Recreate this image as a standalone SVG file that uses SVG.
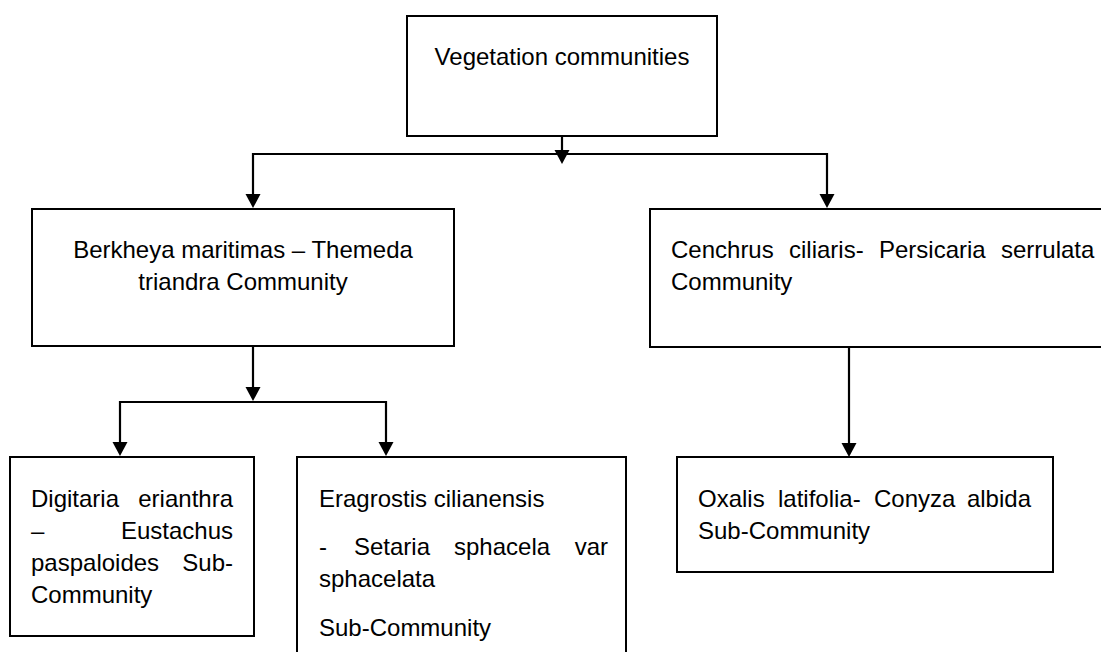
<svg xmlns="http://www.w3.org/2000/svg" width="1101" height="652" viewBox="0 0 1101 652">
<style>
.box{fill:#fff;stroke:#000;stroke-width:2}
.t{font-family:"Liberation Sans",Arial,sans-serif;font-size:24px;fill:#000}
.c{text-anchor:middle}
.e{text-anchor:end}
.ln{fill:none;stroke:#000;stroke-width:2.2}
</style>
<defs>
<marker id="ah" markerUnits="userSpaceOnUse" markerWidth="16" markerHeight="16" viewBox="0 0 16 16" refX="8" refY="8" orient="auto">
<path d="M0,0.5 L14,8 L0,15.5 Z" fill="#000"/>
</marker>
</defs>
<rect width="1101" height="652" fill="#fff"/>
<g id="connectors">
<line class="ln" x1="562" y1="136" x2="562" y2="158" marker-end="url(#ah)"/>
<line class="ln" x1="253" y1="154" x2="827" y2="154"/>
<line class="ln" x1="253" y1="153" x2="253" y2="202" marker-end="url(#ah)"/>
<line class="ln" x1="827" y1="153" x2="827" y2="202" marker-end="url(#ah)"/>
<line class="ln" x1="253" y1="346" x2="253" y2="395" marker-end="url(#ah)"/>
<line class="ln" x1="120" y1="402" x2="386" y2="402"/>
<line class="ln" x1="120" y1="401" x2="120" y2="450" marker-end="url(#ah)"/>
<line class="ln" x1="386" y1="401" x2="386" y2="450" marker-end="url(#ah)"/>
<line class="ln" x1="849" y1="347" x2="849" y2="451" marker-end="url(#ah)"/>
</g>
<g id="node-vegetation">
<rect class="box" x="407" y="16" width="310" height="120"/>
<text class="t c" x="562" y="65">Vegetation communities</text>
</g>
<g id="node-berkheya">
<rect class="box" x="32" y="209" width="422" height="137"/>
<text class="t c" x="243" y="258">Berkheya maritimas – Themeda</text>
<text class="t c" x="243" y="290">triandra Community</text>
</g>
<g id="node-cenchrus">
<rect class="box" x="650" y="209" width="470" height="138"/>
<text class="t" y="258"><tspan x="671">Cenchrus</tspan><tspan x="789">ciliaris-</tspan><tspan x="879">Persicaria</tspan><tspan x="1001">serrulata</tspan></text>
<text class="t" x="671" y="290">Community</text>
</g>
<g id="node-digitaria">
<rect class="box" x="10" y="457" width="244" height="179"/>
<text class="t" x="31" y="507">Digitaria</text>
<text class="t e" x="233" y="507">erianthra</text>
<text class="t" x="31" y="539">–</text>
<text class="t e" x="233" y="539">Eustachus</text>
<text class="t" x="31" y="571">paspaloides</text>
<text class="t e" x="233" y="571">Sub-</text>
<text class="t" x="31" y="603">Community</text>
</g>
<g id="node-eragrostis">
<rect class="box" x="297" y="457" width="329" height="260"/>
<text class="t" x="319" y="507">Eragrostis cilianensis</text>
<text class="t" y="555"><tspan x="319">-</tspan><tspan x="354">Setaria</tspan><tspan x="454">sphacela</tspan></text>
<text class="t e" x="608" y="555">var</text>
<text class="t" x="319" y="587">sphacelata</text>
<text class="t" x="319" y="636">Sub-Community</text>
</g>
<g id="node-oxalis">
<rect class="box" x="677" y="457" width="376" height="115"/>
<text class="t" y="507"><tspan x="698">Oxalis</tspan><tspan x="778">latifolia-</tspan><tspan x="874">Conyza</tspan></text>
<text class="t e" x="1031" y="507">albida</text>
<text class="t" x="698" y="539">Sub-Community</text>
</g>
</svg>
